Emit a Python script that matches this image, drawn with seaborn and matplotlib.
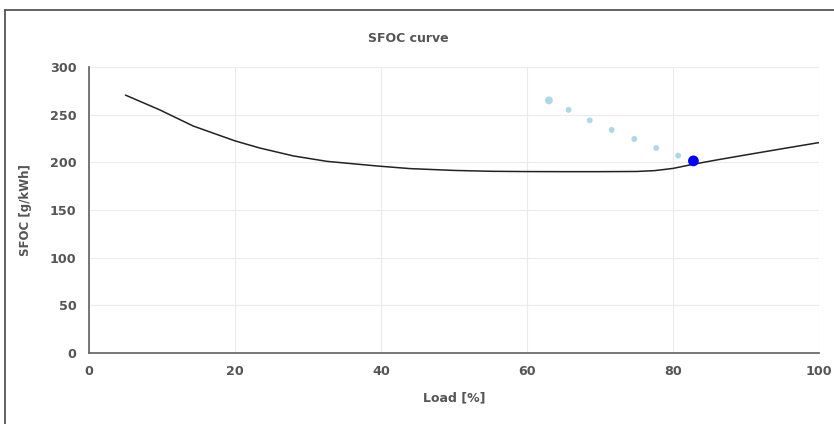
import numpy as np
import pandas as pd
import matplotlib
matplotlib.use("Agg")
import matplotlib.pyplot as plt
from matplotlib.lines import Line2D
import seaborn as sns

# curva SFOC (carga % -> g/kWh)
carga = [5, 9.7, 14.3, 20, 23.4, 28, 32.6, 39.4, 44, 50, 55, 60, 65, 70, 75, 77.5, 80, 82.8, 86, 90, 95, 100]
sfoc = [270.5, 255, 238, 222.5, 215, 206.7, 201, 196.2, 193.4, 191.5, 190.6, 190.3, 190.2, 190.2,
        190.4, 191.3, 193.6, 198, 202.5, 207.8, 214.3, 220.7]

# pontos historicos (azul claro) e ponto atual (azul)
hist_carga = [63.0, 65.7, 68.6, 71.6, 74.7, 77.7, 80.7]
hist_sfoc = [265, 255, 244, 234, 224.5, 215, 207]
hist_tam = [32, 18, 18, 18, 18, 18, 18]
atual_carga = [82.8]
atual_sfoc = [201.5]

x_ticks = [0, 20, 40, 60, 80, 100]
y_ticks = [0, 50, 100, 150, 200, 250, 300]

COR_TEXTO = "#555555"
COR_EIXO = "#6b6b6b"

sns.set_theme(style="white")
plt.rcParams['font.family'] = ['DejaVu Sans']

fig = plt.figure(figsize=(8.34, 4.24), dpi=100)
ax = fig.add_axes([0.1067, 0.1675, 0.8753, 0.6745])

df_curva = pd.DataFrame({'carga': carga, 'sfoc': sfoc})
df_hist = pd.DataFrame({'carga': hist_carga, 'sfoc': hist_sfoc, 'tam': hist_tam})
df_atual = pd.DataFrame({'carga': atual_carga, 'sfoc': atual_sfoc})

sns.lineplot(data=df_curva, x='carga', y='sfoc', color='#222222', linewidth=1.1, ax=ax, zorder=3)
sns.scatterplot(data=df_hist, x='carga', y='sfoc', size='tam', sizes=(18, 32), color='#add8e6',
                edgecolor='none', legend=False, ax=ax, zorder=4)
sns.scatterplot(data=df_atual, x='carga', y='sfoc', color='#0000ff', s=60, edgecolor='none',
                legend=False, ax=ax, zorder=5)

ax.set_xlim(0, 100)
ax.set_ylim(0, 300)
ax.set_xticks(x_ticks)
ax.set_yticks(y_ticks)
ax.grid(True, color='#ebebeb', linewidth=0.8)
ax.set_axisbelow(True)

for lado in ['top', 'right']:
    ax.spines[lado].set_visible(False)
for lado in ['left', 'bottom']:
    ax.spines[lado].set_color(COR_EIXO)
    ax.spines[lado].set_linewidth(1.3)

ax.tick_params(axis='both', direction='out', length=4, width=1, color='#333333',
               labelsize=9.2, labelcolor=COR_TEXTO, pad=5)
for rotulo in ax.get_xticklabels() + ax.get_yticklabels():
    rotulo.set_fontweight('bold')

ax.set_xlabel('Load [%]', fontsize=9, fontweight='bold', color=COR_TEXTO, labelpad=9)
ax.set_ylabel('SFOC [g/kWh]', fontsize=8.5, fontweight='bold', color=COR_TEXTO, labelpad=13)
fig.text(0.49, 0.91, 'SFOC curve', ha='center', va='center', fontsize=9,
         fontweight='bold', color=COR_TEXTO)

# moldura do cartao (so esquerda e topo aparecem no recorte)
fig.add_artist(Line2D([0.0055, 0.0055], [0.0, 0.977], transform=fig.transFigure, color='#555555', linewidth=1.3))
fig.add_artist(Line2D([0.0055, 1.0], [0.977, 0.977], transform=fig.transFigure, color='#555555', linewidth=1.3))

fig.savefig('out.png', dpi=100)
plt.close(fig)
